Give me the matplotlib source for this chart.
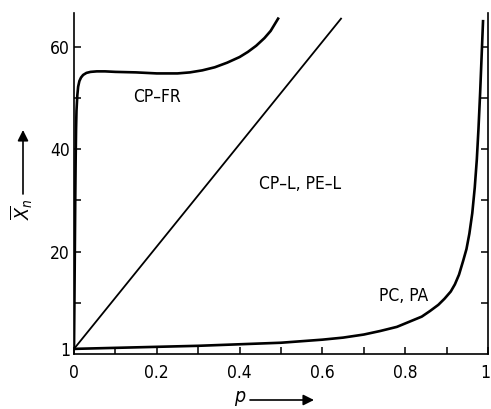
import matplotlib
matplotlib.use("Agg")
import matplotlib.pyplot as plt
import matplotlib.transforms as mtransforms

plt.rcParams['font.family'] = ['DejaVu Sans']
plt.rcParams['font.stretch'] = 'condensed'
plt.rcParams['mathtext.fontset'] = 'dejavusans'

# CP-FR: fast jump, plateau, then rise
p_fr = [0, 0.001, 0.002, 0.003, 0.004, 0.005, 0.006, 0.008, 0.01, 0.013,
        0.017, 0.022, 0.03, 0.04, 0.055, 0.075, 0.1, 0.15, 0.2, 0.25,
        0.28, 0.31, 0.34, 0.37, 0.40, 0.42, 0.44, 0.46, 0.475, 0.493]
x_fr = [1, 10, 20, 30, 38, 44, 47.5, 50.5, 52.2, 53.3,
        54.0, 54.5, 54.9, 55.1, 55.2, 55.2, 55.1, 55.0, 54.8, 54.8,
        55.0, 55.4, 56.0, 56.9, 58.0, 59.0, 60.2, 61.7, 63.1, 65.5]

# CP-L, PE-L: straight line
p_l = [0, 0.645]
x_l = [1, 65.5]

# PC, PA: step growth
p_pc = [0, 0.1, 0.2, 0.3, 0.4, 0.5, 0.55, 0.6, 0.65, 0.7, 0.74, 0.78,
        0.81, 0.84, 0.86, 0.88, 0.895, 0.91, 0.92, 0.93, 0.94, 0.948,
        0.955, 0.962, 0.968, 0.973, 0.977, 0.981, 0.985, 0.988]
x_pc = [1, 1.2, 1.4, 1.6, 1.9, 2.2, 2.5, 2.8, 3.2, 3.8, 4.5, 5.3,
        6.3, 7.3, 8.4, 9.6, 10.8, 12.2, 13.6, 15.5, 18.2, 20.5,
        23.5, 27.5, 32.5, 38, 44, 51, 59, 65]

xticks = [0, 0.2, 0.4, 0.6, 0.8, 1]
xticklabels = ['0', '0.2', '0.4', '0.6', '0.8', '1']
yticks = [1, 20, 40, 60]
yticklabels = ['1', '20', '40', '60']

fig = plt.figure(figsize=(4.91, 4.09), dpi=100)
ax = fig.add_axes([74 / 491, 55 / 409, 414 / 491, 341 / 409])

ax.plot(p_fr, x_fr, color='black', lw=1.9, solid_joinstyle='round')
ax.plot(p_l, x_l, color='black', lw=1.3)
ax.plot(p_pc, x_pc, color='black', lw=1.9, solid_joinstyle='round')

ax.set_xlim(0, 1)
ax.set_ylim(0, 66.6)
ax.set_xticks(xticks)
ax.set_xticklabels(xticklabels)
ax.set_xticks([0.1, 0.3, 0.5, 0.7, 0.9], minor=True)
ax.set_yticks(yticks)
ax.set_yticklabels(yticklabels)
ax.set_yticks([10, 30, 50], minor=True)

ax.tick_params(which='both', direction='in', length=5, width=1.1,
               labelsize=12.5, colors='black')
ax.tick_params(axis='x', pad=7)
ax.tick_params(axis='y', pad=3)
ax.spines['top'].set_visible(False)
for s in ['left', 'bottom', 'right']:
    ax.spines[s].set_linewidth(1.2)

# nudge the last x label so it stays inside the figure
last = ax.get_xticklabels()[-1]
last.set_transform(last.get_transform() +
                   mtransforms.ScaledTranslation(-3 / 100, 0, fig.dpi_scale_trans))

ax2 = ax.twinx()
ax2.set_ylim(ax.get_ylim())
ax2.set_yticks([10, 20, 30, 40, 50, 60])
ax2.set_yticklabels([])
ax2.tick_params(direction='in', length=5, width=1.1)
for s in ['top', 'left', 'bottom', 'right']:
    ax2.spines[s].set_visible(False)

ax.text(0.2, 50.2, 'CP–FR', fontsize=12.5, ha='center', va='center')
ax.text(0.545, 33.2, 'CP–L, PE–L', fontsize=12.5, ha='center', va='center')
ax.text(0.795, 11.3, 'PC, PA', fontsize=12.5, ha='center', va='center')

# axis labels with arrows
fig.text(22 / 491, 1 - 209 / 409, r'$\overline{X}_n$', rotation=90,
         fontsize=14, ha='center', va='center')
fig.text(240 / 491, 1 - 398 / 409, r'$p$', fontsize=14,
         ha='center', va='center')
arrow = dict(arrowstyle='-|>', lw=1.2, color='black', mutation_scale=16,
             shrinkA=0, shrinkB=0)
ax.annotate('', xy=(23, 409 - 130), xytext=(23, 409 - 194),
            xycoords='figure pixels', textcoords='figure pixels',
            arrowprops=arrow)
ax.annotate('', xy=(314, 409 - 400), xytext=(250, 409 - 400),
            xycoords='figure pixels', textcoords='figure pixels',
            arrowprops=arrow)

fig.savefig('out.png', dpi=100)
